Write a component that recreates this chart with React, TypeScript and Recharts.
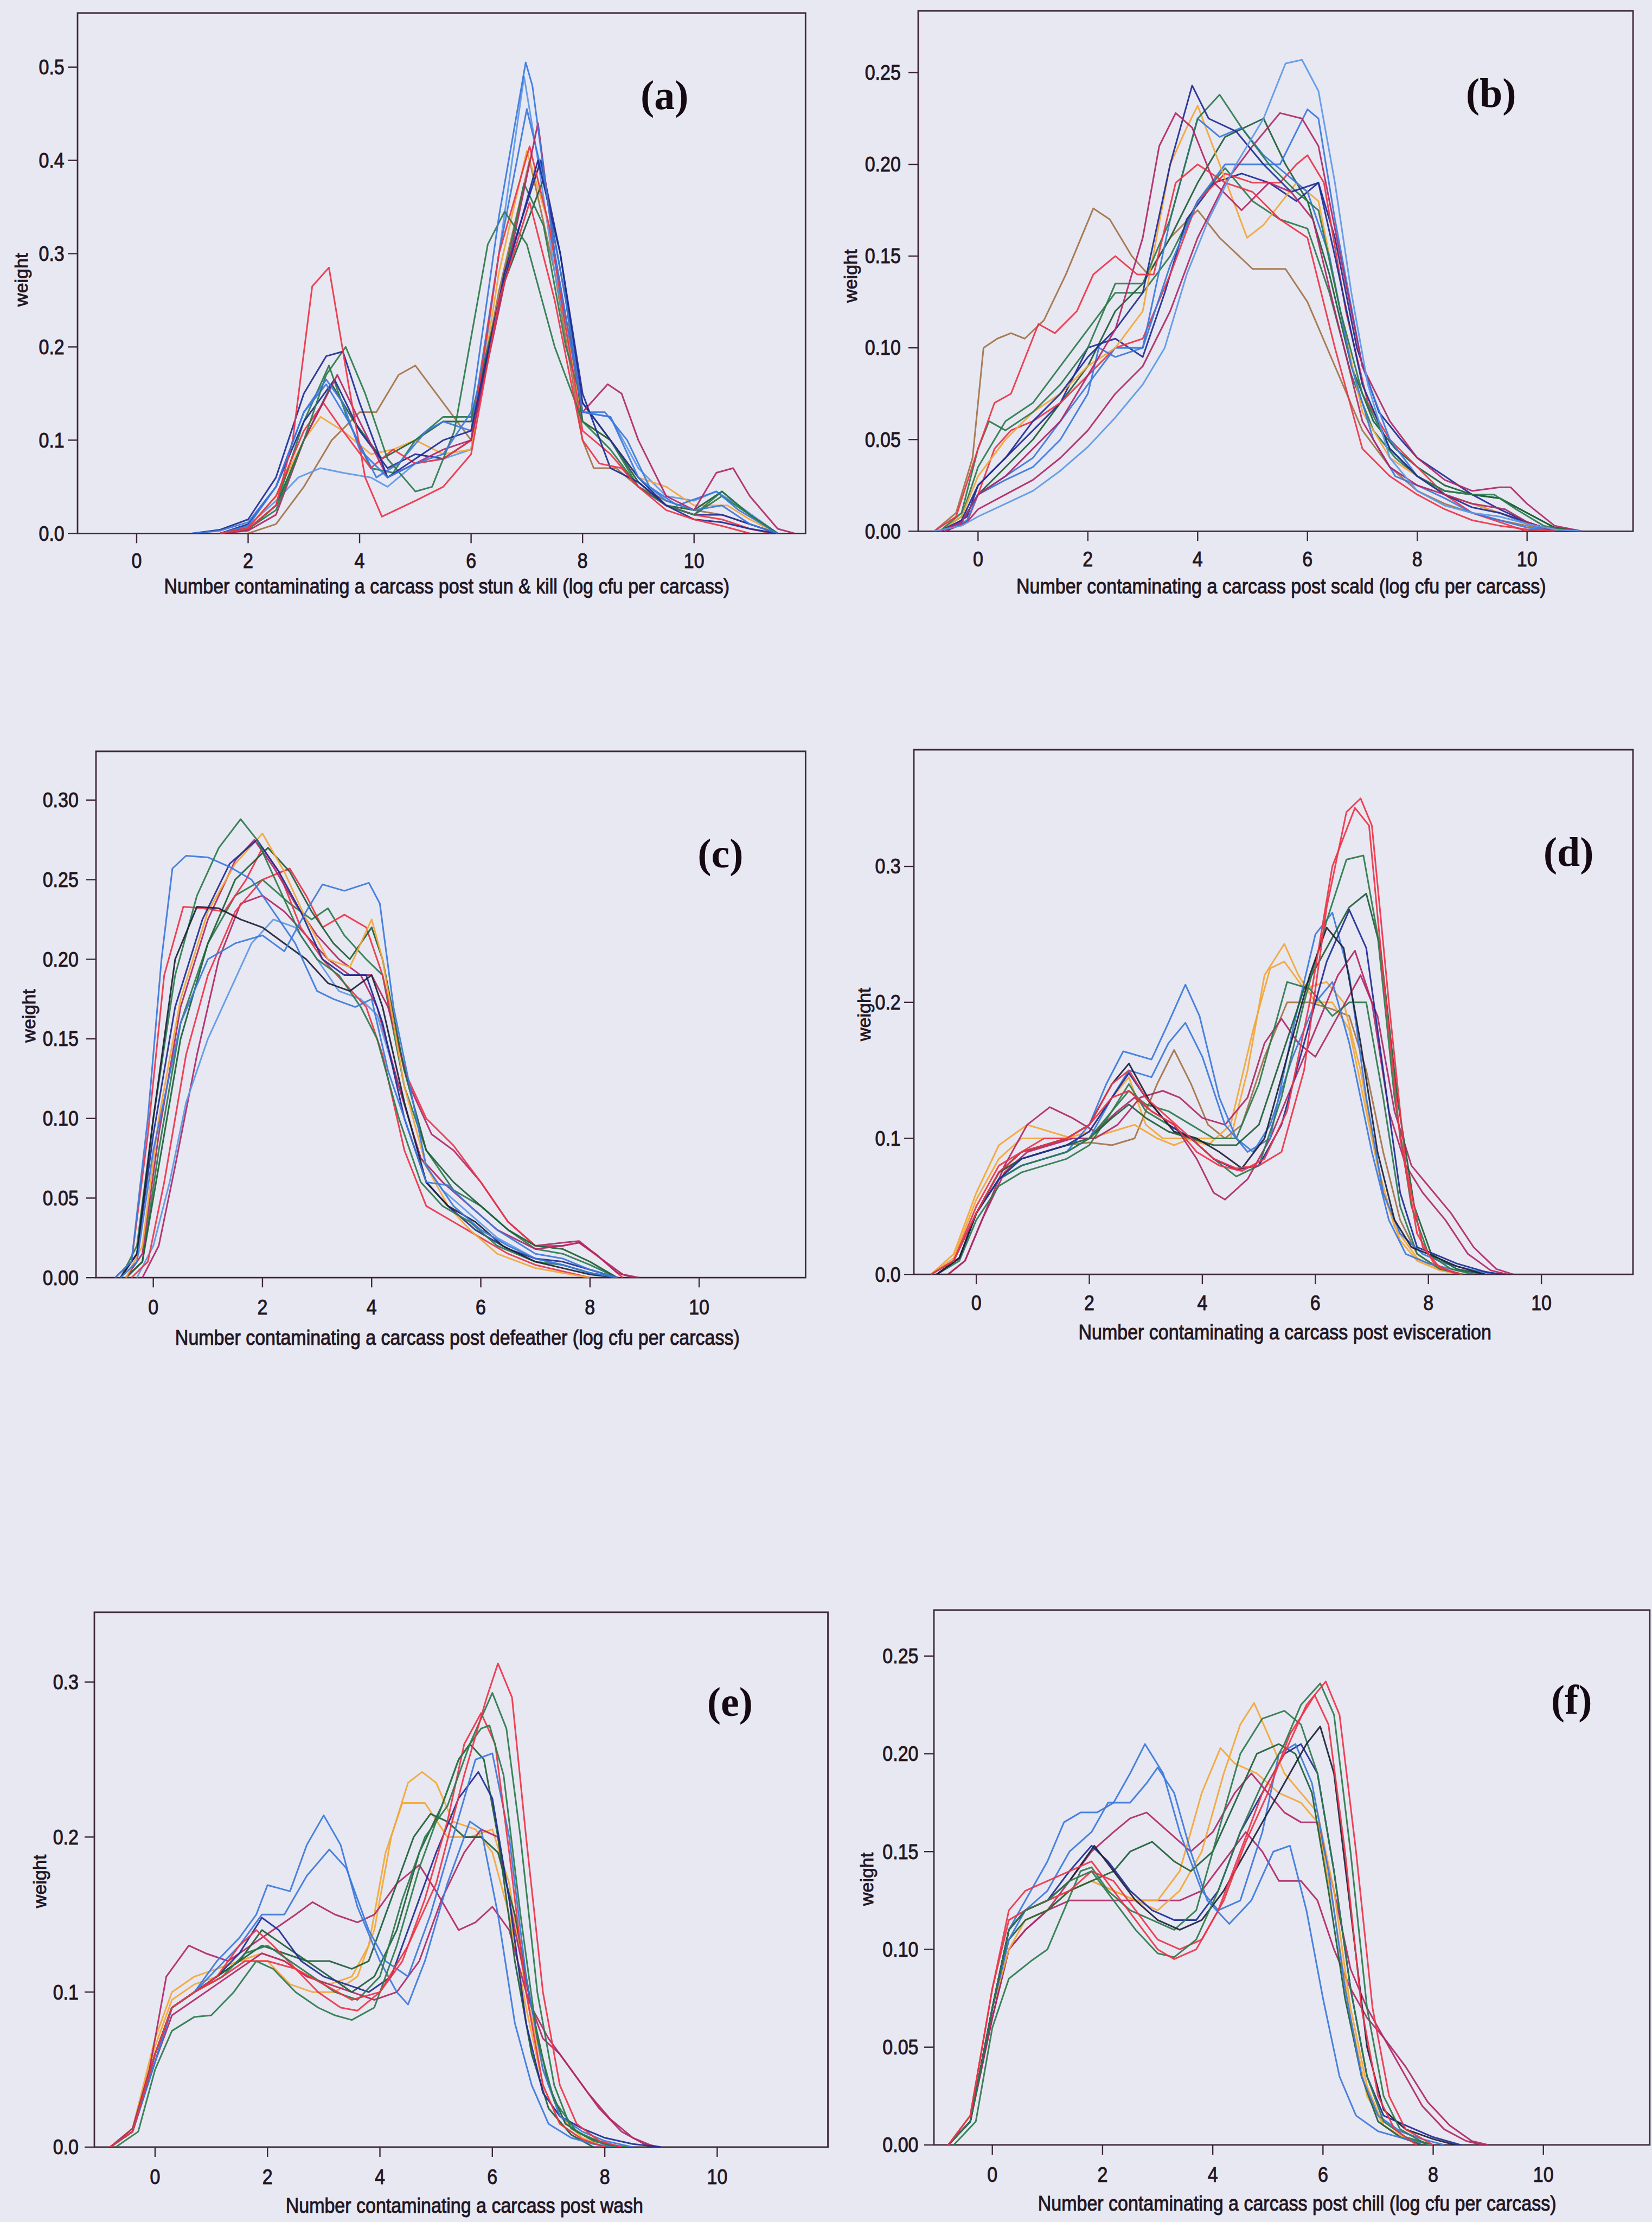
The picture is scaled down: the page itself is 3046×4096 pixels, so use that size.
import React from 'react';
import { LineChart, Line, XAxis, YAxis, ReferenceArea } from 'recharts';

type Pt = [number, number];

// ---------- panel (a): post stun & kill ----------
const A1: Pt[] = [[1,0],[1.5,0.003],[2,0.012],[2.5,0.05],[3,0.13],[3.4,0.165],[3.7,0.14],[4,0.09],[4.5,0.06],[5,0.075],[5.5,0.085],[6,0.13],[6.5,0.34],[6.98,0.505],[7.1,0.48],[7.5,0.3],[8,0.13],[8.5,0.125],[9,0.06],[9.5,0.035],[10,0.025],[10.5,0.03],[11,0.01],[11.5,0]];
const A2: Pt[] = [[1.5,0],[2,0.008],[2.5,0.035],[2.9,0.06],[3.3,0.07],[3.7,0.065],[4.2,0.06],[4.5,0.05],[5,0.075],[5.5,0.08],[6,0.09],[6.5,0.3],[6.95,0.49],[7.2,0.4],[7.5,0.28],[8,0.13],[8.5,0.125],[9,0.07],[9.5,0.04],[10,0.035],[10.4,0.045],[10.8,0.03],[11.5,0]];
const A3: Pt[] = [[1.5,0],[2,0.005],[2.5,0.03],[2.8,0.1],[3.15,0.265],[3.45,0.285],[3.8,0.16],[4.1,0.06],[4.4,0.018],[5,0.035],[5.5,0.05],[6,0.085],[6.5,0.25],[7.05,0.355],[7.5,0.25],[8,0.1],[8.3,0.075],[8.7,0.07],[9,0.05],[9.5,0.025],[10,0.015],[10.5,0.008],[11,0]];
const A4: Pt[] = [[1,0],[1.5,0.004],[2,0.015],[2.5,0.06],[3,0.15],[3.4,0.19],[3.7,0.195],[4,0.14],[4.5,0.06],[5,0.08],[5.5,0.1],[6,0.11],[6.5,0.25],[7.2,0.4],[7.6,0.3],[8,0.15],[8.5,0.07],[9,0.055],[9.5,0.03],[10,0.015],[10.5,0.012],[11,0.005],[11.5,0]];
const A5: Pt[] = [[1.5,0],[2,0.005],[2.5,0.025],[3,0.1],[3.4,0.17],[3.75,0.2],[4.1,0.15],[4.5,0.08],[5,0.045],[5.3,0.05],[5.7,0.11],[6,0.21],[6.3,0.31],[6.6,0.345],[7,0.31],[7.5,0.2],[8,0.12],[8.5,0.09],[9,0.05],[9.5,0.03],[10,0.02],[10.5,0.045],[11,0.02],[11.5,0]];
const A6: Pt[] = [[1.5,0],[2,0.004],[2.5,0.03],[3,0.12],[3.45,0.18],[3.8,0.12],[4.2,0.07],[4.6,0.065],[5,0.1],[5.5,0.125],[6,0.125],[6.5,0.25],[6.95,0.375],[7.3,0.33],[7.7,0.2],[8,0.14],[8.5,0.1],[9,0.05],[9.5,0.03],[10,0.02],[10.5,0.04],[11,0.02],[11.5,0]];
const A7: Pt[] = [[1.5,0],[2,0.003],[2.5,0.02],[3,0.1],[3.6,0.17],[4,0.12],[4.5,0.06],[5,0.075],[5.5,0.09],[6,0.1],[6.5,0.24],[7.2,0.44],[7.5,0.3],[8,0.13],[8.45,0.16],[8.7,0.15],[9,0.1],[9.5,0.04],[10,0.025],[10.4,0.065],[10.7,0.07],[11,0.04],[11.5,0.005],[11.8,0]];
const A8: Pt[] = [[1.5,0],[2,0.006],[2.5,0.04],[3,0.1],[3.3,0.125],[3.7,0.11],[4.2,0.085],[4.6,0.09],[5,0.1],[5.5,0.085],[6,0.09],[6.5,0.28],[7,0.41],[7.4,0.33],[8,0.12],[8.5,0.1],[9,0.06],[9.5,0.05],[10,0.03],[10.6,0.03],[11,0.015],[11.5,0]];
const A9: Pt[] = [[2,0],[2.5,0.01],[3,0.05],[3.5,0.1],[4,0.13],[4.3,0.13],[4.7,0.17],[5,0.18],[5.5,0.14],[6,0.1],[6.5,0.26],[7.05,0.4],[7.5,0.28],[8,0.1],[8.2,0.07],[8.6,0.07],[9,0.05],[9.5,0.035],[10,0.025],[10.5,0.02],[11,0.01],[11.5,0]];
const A10: Pt[] = [[1.5,0],[2,0.006],[2.5,0.04],[3,0.11],[3.35,0.14],[3.7,0.11],[4.2,0.07],[4.6,0.09],[5,0.075],[5.5,0.08],[6,0.1],[6.5,0.3],[7.05,0.415],[7.4,0.33],[8,0.11],[8.5,0.085],[9,0.05],[9.5,0.03],[10,0.02],[10.5,0.015],[11,0.005],[11.4,0]];
const A11: Pt[] = [[1.5,0],[2,0.008],[2.5,0.05],[3,0.13],[3.4,0.16],[3.8,0.12],[4.3,0.06],[4.7,0.075],[5.2,0.11],[5.5,0.12],[6,0.11],[6.5,0.3],[7,0.455],[7.3,0.38],[7.7,0.25],[8,0.13],[8.4,0.13],[8.8,0.1],[9.2,0.05],[9.7,0.03],[10.4,0.045],[10.8,0.025],[11.5,0]];
const A12: Pt[] = [[1.5,0],[2,0.01],[2.5,0.05],[3,0.12],[3.55,0.165],[4,0.11],[4.5,0.07],[5,0.085],[5.5,0.08],[6,0.1],[6.6,0.28],[7.25,0.4],[7.6,0.3],[8,0.14],[8.5,0.1],[9,0.06],[9.5,0.03],[10,0.02],[10.5,0.02],[11,0.01],[11.5,0]];
const A13: Pt[] = [[1.5,0],[2,0.004],[2.5,0.03],[3,0.1],[3.5,0.16],[3.9,0.12],[4.4,0.08],[5,0.1],[5.5,0.12],[6,0.12],[6.6,0.27],[7.3,0.38],[7.7,0.25],[8,0.12],[8.5,0.1],[9,0.055],[9.5,0.03],[10,0.025],[10.5,0.045],[11,0.02],[11.5,0]];

// ---------- panel (b): post scald ----------
const B1: Pt[] = [[-0.8,0],[-0.3,0.003],[0,0.008],[0.5,0.015],[1,0.022],[1.5,0.033],[2,0.046],[2.5,0.062],[3,0.08],[3.4,0.1],[3.8,0.14],[4.2,0.17],[4.7,0.2],[5.2,0.225],[5.6,0.255],[5.9,0.257],[6.2,0.24],[6.5,0.19],[6.8,0.13],[7.1,0.08],[7.5,0.04],[8,0.022],[8.5,0.014],[9,0.01],[9.5,0.008],[10,0.004],[10.5,0.001],[11,0]];
const B2: Pt[] = [[-0.8,0],[-0.4,0.01],[-0.1,0.04],[0.1,0.1],[0.35,0.105],[0.6,0.108],[0.85,0.105],[1.2,0.115],[1.6,0.14],[2.1,0.176],[2.4,0.17],[2.8,0.15],[3.1,0.14],[3.5,0.16],[4,0.175],[4.4,0.16],[5,0.143],[5.6,0.143],[6,0.125],[6.5,0.09],[7,0.055],[7.5,0.035],[8,0.022],[8.5,0.015],[9,0.01],[9.5,0.006],[10,0.003],[10.5,0]];
const B3: Pt[] = [[-0.8,0],[-0.4,0.008],[0,0.045],[0.3,0.07],[0.6,0.075],[1.1,0.113],[1.4,0.108],[1.8,0.12],[2.1,0.14],[2.5,0.15],[2.9,0.14],[3.2,0.14],[3.6,0.19],[4,0.2],[4.5,0.19],[5,0.185],[5.5,0.17],[6,0.16],[6.5,0.1],[7,0.045],[7.5,0.03],[8,0.02],[8.5,0.012],[9,0.006],[9.5,0.003],[10,0.001],[10.5,0]];
const B4: Pt[] = [[-0.7,0],[-0.3,0.005],[0,0.02],[0.5,0.03],[1,0.045],[1.5,0.06],[2,0.085],[2.5,0.11],[3,0.16],[3.3,0.21],[3.6,0.228],[3.9,0.22],[4.3,0.19],[4.8,0.175],[5.3,0.19],[5.7,0.185],[6.1,0.17],[6.5,0.12],[7,0.06],[7.5,0.035],[8,0.025],[8.5,0.02],[9,0.015],[9.6,0.012],[10,0.005],[10.5,0]];
const B5: Pt[] = [[-0.7,0],[-0.3,0.006],[0,0.025],[0.5,0.04],[1,0.06],[1.5,0.075],[2,0.095],[2.5,0.11],[3,0.13],[3.5,0.2],[3.9,0.243],[4.2,0.225],[4.7,0.218],[5.2,0.2],[5.7,0.185],[6.2,0.19],[6.5,0.15],[7,0.08],[7.5,0.045],[8,0.03],[8.5,0.02],[9,0.013],[9.5,0.01],[10,0.005],[10.5,0]];
const B6: Pt[] = [[-0.7,0],[-0.3,0.01],[0,0.045],[0.2,0.06],[0.5,0.055],[1,0.065],[1.5,0.08],[2,0.1],[2.5,0.135],[3,0.135],[3.5,0.17],[4,0.225],[4.4,0.238],[4.8,0.22],[5.3,0.2],[5.8,0.185],[6.2,0.175],[6.6,0.12],[7,0.075],[7.5,0.045],[8,0.03],[8.5,0.022],[9,0.02],[9.4,0.02],[9.8,0.012],[10.3,0.003],[10.8,0]];
const B7: Pt[] = [[-0.7,0],[-0.3,0.008],[0,0.03],[0.5,0.05],[1,0.065],[1.5,0.075],[2,0.09],[2.5,0.1],[3,0.12],[3.5,0.2],[3.8,0.22],[4,0.232],[4.4,0.2],[4.9,0.16],[5.2,0.167],[5.8,0.19],[6.2,0.18],[6.6,0.12],[7,0.065],[7.5,0.04],[8,0.03],[8.5,0.02],[9,0.015],[9.5,0.01],[10,0.005],[10.5,0]];
const B8: Pt[] = [[-0.7,0],[-0.3,0.005],[0,0.02],[0.5,0.035],[1,0.05],[1.5,0.07],[2,0.09],[2.5,0.12],[3,0.135],[3.5,0.16],[4,0.19],[4.5,0.215],[5.2,0.225],[5.6,0.2],[6,0.18],[6.4,0.14],[6.8,0.09],[7.2,0.06],[7.6,0.045],[8,0.035],[8.5,0.025],[9,0.02],[9.5,0.018],[10,0.01],[10.5,0.002],[11,0]];
const B9: Pt[] = [[-0.6,0],[-0.2,0.005],[0,0.012],[0.5,0.02],[1,0.028],[1.5,0.04],[2,0.055],[2.5,0.075],[3,0.09],[3.5,0.12],[4,0.16],[4.5,0.19],[5,0.21],[5.5,0.228],[5.9,0.225],[6.2,0.21],[6.6,0.15],[7,0.09],[7.5,0.06],[8,0.04],[8.5,0.028],[9,0.022],[9.5,0.024],[9.7,0.024],[10,0.015],[10.5,0.003],[11,0]];
const B10: Pt[] = [[-0.6,0],[-0.2,0.006],[0,0.02],[0.5,0.03],[1,0.04],[1.5,0.06],[2,0.08],[2.5,0.1],[3,0.1],[3.5,0.145],[4,0.18],[4.5,0.2],[5,0.2],[5.5,0.2],[6,0.23],[6.2,0.225],[6.5,0.17],[7,0.09],[7.5,0.05],[8,0.03],[8.5,0.02],[9,0.015],[9.5,0.01],[10,0.004],[10.5,0]];
const B11: Pt[] = [[-0.6,0],[-0.2,0.005],[0,0.02],[0.3,0.045],[0.6,0.055],[1,0.06],[1.5,0.07],[2,0.085],[2.5,0.1],[3,0.105],[3.5,0.14],[4,0.18],[4.5,0.195],[5,0.19],[5.5,0.19],[5.8,0.2],[6,0.205],[6.3,0.19],[6.7,0.12],[7.1,0.07],[7.5,0.05],[8,0.035],[8.5,0.02],[9,0.01],[9.5,0.005],[10,0]];
const B12: Pt[] = [[-0.6,0],[-0.2,0.008],[0,0.025],[0.5,0.04],[1,0.055],[1.5,0.07],[2,0.1],[2.5,0.105],[3,0.095],[3.4,0.13],[3.8,0.17],[4.3,0.19],[4.8,0.195],[5.3,0.19],[5.8,0.18],[6.2,0.19],[6.5,0.16],[6.9,0.1],[7.3,0.065],[7.7,0.05],[8,0.04],[8.5,0.03],[9,0.02],[9.5,0.012],[10,0.005],[10.5,0]];
const B13: Pt[] = [[-0.7,0],[-0.3,0.008],[0,0.035],[0.5,0.06],[1,0.07],[1.5,0.09],[2,0.11],[2.5,0.13],[3,0.13],[3.5,0.15],[4,0.18],[4.5,0.198],[5,0.18],[5.5,0.17],[6,0.165],[6.4,0.13],[6.8,0.085],[7.2,0.055],[7.6,0.04],[8,0.03],[8.5,0.022],[9,0.02],[9.5,0.018],[10,0.01],[10.5,0.002],[11,0]];
const B14: Pt[] = [[-0.7,0],[-0.3,0.005],[0,0.02],[0.5,0.028],[1,0.035],[1.5,0.05],[2,0.075],[2.2,0.1],[2.5,0.095],[3,0.1],[3.5,0.17],[4,0.225],[4.4,0.215],[4.8,0.22],[5.2,0.205],[5.6,0.195],[6,0.185],[6.4,0.15],[6.8,0.09],[7.2,0.05],[7.6,0.03],[8,0.025],[8.5,0.018],[9,0.01],[9.5,0.006],[10,0.002],[10.5,0]];

// ---------- panel (c): post defeather ----------
const C1: Pt[] = [[-0.7,0],[-0.4,0.01],[-0.1,0.1],[0.15,0.2],[0.35,0.257],[0.6,0.265],[1,0.264],[1.4,0.258],[1.8,0.25],[2.2,0.23],[2.6,0.21],[3,0.18],[3.3,0.175],[3.7,0.17],[4,0.175],[4.3,0.13],[4.7,0.09],[5,0.06],[5.4,0.058],[5.8,0.045],[6.3,0.03],[7,0.015],[7.5,0.012],[8,0.005],[8.5,0]];
const C2: Pt[] = [[-0.6,0],[-0.3,0.01],[0,0.08],[0.5,0.16],[1,0.2],[1.5,0.21],[2,0.215],[2.4,0.205],[2.8,0.23],[3.1,0.247],[3.5,0.243],[3.95,0.248],[4.15,0.235],[4.4,0.17],[4.7,0.12],[5,0.07],[5.5,0.045],[6,0.03],[6.5,0.02],[7,0.012],[7.5,0.008],[8,0.003],[8.5,0]];
const C3: Pt[] = [[-0.6,0],[-0.3,0.02],[0,0.1],[0.4,0.19],[0.8,0.24],[1.2,0.27],[1.6,0.288],[1.9,0.275],[2.3,0.245],[2.7,0.215],[3,0.2],[3.4,0.19],[3.8,0.17],[4.1,0.15],[4.5,0.1],[4.9,0.06],[5.3,0.045],[5.8,0.035],[6.3,0.02],[7,0.01],[7.5,0.008],[8,0.003],[8.5,0]];
const C4: Pt[] = [[-0.5,0],[-0.2,0.02],[0.1,0.1],[0.5,0.175],[1,0.23],[1.5,0.26],[2,0.279],[2.4,0.255],[2.8,0.225],[3.2,0.2],[3.6,0.195],[4,0.225],[4.2,0.2],[4.6,0.12],[5,0.07],[5.4,0.045],[5.8,0.03],[6.3,0.015],[7,0.006],[7.5,0.003],[8,0]];
const C5: Pt[] = [[-0.5,0],[-0.2,0.015],[0.1,0.09],[0.5,0.17],[1,0.225],[1.5,0.262],[1.85,0.275],[2.2,0.258],[2.6,0.235],[3,0.215],[3.4,0.2],[3.8,0.19],[4.1,0.17],[4.5,0.12],[4.9,0.075],[5.3,0.06],[5.8,0.045],[6.3,0.03],[7,0.018],[7.5,0.02],[7.8,0.022],[8.1,0.015],[8.5,0.003],[8.8,0]];
const C6: Pt[] = [[-0.6,0],[-0.3,0.015],[0,0.09],[0.4,0.17],[0.9,0.225],[1.4,0.26],[1.9,0.275],[2.3,0.255],[2.7,0.23],[3.1,0.2],[3.5,0.19],[3.9,0.19],[4.2,0.16],[4.6,0.1],[5,0.06],[5.4,0.045],[5.9,0.03],[6.5,0.018],[7,0.012],[7.5,0.01],[8,0.005],[8.5,0]];
const C7: Pt[] = [[-0.5,0],[-0.2,0.01],[0.1,0.07],[0.5,0.15],[1,0.21],[1.5,0.25],[2.1,0.27],[2.5,0.255],[2.9,0.23],[3.3,0.21],[3.6,0.2],[4,0.22],[4.2,0.2],[4.6,0.13],[5,0.08],[5.5,0.06],[6,0.045],[6.5,0.03],[7,0.02],[7.5,0.018],[8,0.01],[8.5,0]];
const C8: Pt[] = [[-0.7,0],[-0.4,0.01],[-0.1,0.09],[0.2,0.19],[0.55,0.233],[0.9,0.232],[1.3,0.23],[1.7,0.25],[2,0.27],[2.3,0.255],[2.7,0.22],[3.1,0.2],[3.5,0.185],[3.9,0.17],[4.2,0.14],[4.6,0.08],[5,0.045],[5.5,0.035],[6,0.025],[6.5,0.015],[7,0.008],[7.5,0.004],[8,0]];
const C9: Pt[] = [[-0.4,0],[-0.1,0.01],[0.2,0.06],[0.6,0.14],[1,0.19],[1.5,0.23],[2,0.25],[2.5,0.257],[2.8,0.24],[3.1,0.22],[3.5,0.228],[3.9,0.22],[4.2,0.19],[4.6,0.13],[5,0.1],[5.5,0.083],[6,0.06],[6.5,0.035],[7,0.02],[7.5,0.02],[7.8,0.022],[8.2,0.012],[8.6,0]];
const C10: Pt[] = [[-0.6,0],[-0.3,0.015],[0,0.1],[0.4,0.2],[0.8,0.233],[1.2,0.232],[1.6,0.225],[2,0.22],[2.4,0.21],[2.8,0.2],[3.2,0.185],[3.6,0.18],[4,0.19],[4.2,0.17],[4.6,0.11],[5,0.06],[5.4,0.045],[5.9,0.035],[6.4,0.02],[7,0.01],[7.5,0.006],[8,0.002],[8.5,0]];
const C11: Pt[] = [[-0.3,0],[0,0.02],[0.3,0.06],[0.6,0.11],[1,0.15],[1.4,0.18],[1.8,0.21],[2.2,0.225],[2.6,0.22],[3,0.2],[3.4,0.18],[3.8,0.175],[4.1,0.165],[4.5,0.12],[4.9,0.075],[5.3,0.055],[5.8,0.04],[6.3,0.025],[7,0.012],[7.5,0.008],[8,0.003],[8.5,0]];
const C12: Pt[] = [[-0.2,0],[0.1,0.02],[0.4,0.07],[0.8,0.14],[1.2,0.2],[1.6,0.235],[2,0.24],[2.4,0.23],[2.8,0.215],[3.2,0.2],[3.6,0.19],[4,0.19],[4.3,0.17],[4.7,0.12],[5.1,0.09],[5.5,0.08],[6,0.06],[6.5,0.035],[7,0.02],[7.5,0.022],[7.8,0.023],[8.2,0.012],[8.6,0.002],[8.9,0]];
const C13: Pt[] = [[-0.5,0],[-0.2,0.01],[0.1,0.08],[0.5,0.16],[1,0.21],[1.5,0.24],[2,0.25],[2.5,0.235],[2.9,0.225],[3.2,0.232],[3.5,0.215],[3.9,0.2],[4.2,0.19],[4.6,0.12],[5,0.08],[5.5,0.055],[6,0.045],[6.5,0.03],[7,0.018],[7.5,0.015],[8,0.008],[8.5,0]];

// ---------- panel (d): post evisceration ----------
const D1: Pt[] = [[-0.8,0],[-0.4,0.01],[0,0.045],[0.4,0.075],[0.8,0.09],[1.2,0.1],[1.6,0.1],[2,0.11],[2.4,0.14],[2.7,0.15],[3,0.13],[3.4,0.115],[3.8,0.1],[4.2,0.085],[4.6,0.078],[5,0.08],[5.4,0.09],[5.8,0.15],[6.2,0.27],[6.55,0.34],[6.8,0.35],[7,0.33],[7.3,0.2],[7.6,0.08],[7.9,0.02],[8.2,0.005],[8.6,0]];
const D2: Pt[] = [[-0.8,0],[-0.4,0.01],[0,0.05],[0.4,0.08],[0.8,0.09],[1.2,0.095],[1.6,0.1],[2,0.11],[2.4,0.13],[2.7,0.135],[3.1,0.12],[3.5,0.11],[3.9,0.09],[4.3,0.08],[4.7,0.076],[5.1,0.085],[5.5,0.12],[5.9,0.2],[6.3,0.3],[6.7,0.343],[6.95,0.33],[7.2,0.22],[7.5,0.1],[7.8,0.03],[8.1,0.008],[8.5,0]];
const D3: Pt[] = [[-0.8,0],[-0.4,0.01],[0,0.045],[0.4,0.07],[0.8,0.08],[1.2,0.085],[1.6,0.09],[2,0.11],[2.3,0.14],[2.6,0.164],[3.1,0.158],[3.4,0.185],[3.7,0.213],[3.95,0.19],[4.3,0.13],[4.6,0.1],[4.9,0.09],[5.2,0.11],[5.6,0.16],[6,0.2],[6.3,0.215],[6.6,0.17],[7,0.09],[7.3,0.04],[7.6,0.015],[8,0.008],[8.5,0.003],[9,0]];
const D4: Pt[] = [[-0.8,0],[-0.4,0.01],[0,0.045],[0.4,0.07],[0.8,0.08],[1.2,0.085],[1.6,0.09],[2,0.1],[2.4,0.13],[2.7,0.15],[3.1,0.145],[3.4,0.17],[3.7,0.185],[4,0.16],[4.4,0.11],[4.8,0.09],[5.2,0.1],[5.6,0.18],[6,0.25],[6.3,0.266],[6.6,0.22],[6.9,0.13],[7.2,0.06],[7.5,0.03],[7.9,0.015],[8.3,0.008],[8.8,0.003],[9.2,0]];
const D5: Pt[] = [[-0.7,0],[-0.3,0.012],[0,0.045],[0.4,0.075],[0.8,0.085],[1.2,0.09],[1.6,0.095],[2,0.097],[2.4,0.095],[2.8,0.1],[3.2,0.14],[3.5,0.165],[3.8,0.14],[4.1,0.11],[4.4,0.1],[4.7,0.11],[5.1,0.16],[5.5,0.2],[5.9,0.2],[6.3,0.195],[6.6,0.19],[6.9,0.15],[7.2,0.09],[7.5,0.04],[7.8,0.015],[8.2,0.004],[8.6,0]];
const D6: Pt[] = [[-0.8,0],[-0.4,0.015],[0,0.06],[0.4,0.095],[0.9,0.11],[1.3,0.105],[1.7,0.1],[2,0.1],[2.4,0.105],[2.8,0.11],[3.2,0.1],[3.5,0.095],[3.8,0.1],[4.2,0.1],[4.5,0.1],[4.8,0.15],[5.1,0.22],[5.45,0.243],[5.7,0.22],[6,0.2],[6.3,0.2],[6.6,0.18],[6.9,0.12],[7.2,0.06],[7.5,0.025],[7.8,0.01],[8.2,0.003],[8.6,0]];
const D7: Pt[] = [[-0.8,0],[-0.4,0.012],[0,0.055],[0.4,0.085],[0.8,0.1],[1.2,0.1],[1.6,0.1],[2,0.105],[2.4,0.13],[2.7,0.145],[3,0.11],[3.3,0.1],[3.7,0.1],[4.1,0.095],[4.5,0.11],[4.9,0.18],[5.2,0.225],[5.45,0.23],[5.8,0.21],[6.2,0.215],[6.5,0.2],[6.8,0.15],[7.1,0.08],[7.4,0.035],[7.8,0.012],[8.2,0.004],[8.6,0]];
const D8: Pt[] = [[-0.7,0],[-0.3,0.012],[0,0.045],[0.4,0.07],[0.8,0.08],[1.2,0.085],[1.6,0.09],[2,0.1],[2.4,0.12],[2.7,0.14],[3,0.12],[3.4,0.11],[3.8,0.1],[4.2,0.085],[4.6,0.072],[5,0.08],[5.4,0.13],[5.8,0.2],[6.2,0.26],[6.55,0.305],[6.85,0.308],[7.1,0.25],[7.4,0.13],[7.7,0.05],[8,0.015],[8.4,0.004],[8.8,0]];
const D9: Pt[] = [[-0.7,0],[-0.3,0.012],[0,0.045],[0.4,0.075],[0.8,0.085],[1.2,0.09],[1.6,0.095],[2,0.1],[2.4,0.115],[2.7,0.125],[3,0.115],[3.4,0.105],[3.8,0.1],[4.2,0.095],[4.6,0.095],[5,0.11],[5.4,0.16],[5.8,0.21],[6.2,0.24],[6.6,0.27],[6.9,0.28],[7.15,0.24],[7.45,0.13],[7.75,0.05],[8.05,0.015],[8.5,0.004],[9,0]];
const D10: Pt[] = [[-0.7,0],[-0.3,0.012],[0,0.045],[0.4,0.07],[0.8,0.085],[1.2,0.09],[1.6,0.095],[2,0.105],[2.4,0.13],[2.7,0.148],[3,0.13],[3.4,0.11],[3.8,0.1],[4.2,0.085],[4.6,0.077],[5,0.08],[5.4,0.11],[5.8,0.17],[6.2,0.23],[6.6,0.268],[6.9,0.24],[7.2,0.15],[7.5,0.06],[7.8,0.02],[8.1,0.015],[8.5,0.008],[9,0.002],[9.3,0]];
const D11: Pt[] = [[-0.5,0],[-0.2,0.01],[0.1,0.04],[0.5,0.08],[0.9,0.11],[1.3,0.123],[1.7,0.115],[2.1,0.105],[2.5,0.12],[2.8,0.13],[3.1,0.12],[3.5,0.11],[3.9,0.085],[4.2,0.06],[4.4,0.055],[4.8,0.07],[5.2,0.1],[5.6,0.14],[6,0.18],[6.4,0.22],[6.7,0.238],[7,0.2],[7.3,0.12],[7.6,0.08],[7.9,0.06],[8.3,0.04],[8.7,0.015],[9.1,0.003],[9.4,0]];
const D12: Pt[] = [[-0.5,0],[-0.2,0.01],[0.1,0.04],[0.5,0.075],[0.9,0.09],[1.3,0.095],[1.7,0.1],[2.1,0.1],[2.5,0.11],[2.9,0.13],[3.3,0.135],[3.6,0.13],[4,0.115],[4.4,0.11],[4.8,0.13],[5.1,0.17],[5.4,0.188],[5.7,0.17],[6,0.16],[6.4,0.19],[6.8,0.22],[7.1,0.19],[7.4,0.12],[7.7,0.08],[8,0.065],[8.4,0.045],[8.8,0.02],[9.2,0.004],[9.5,0]];
const D13: Pt[] = [[-0.7,0],[-0.3,0.01],[0,0.04],[0.4,0.065],[0.8,0.075],[1.2,0.08],[1.6,0.085],[2,0.095],[2.4,0.12],[2.7,0.135],[3,0.125],[3.4,0.12],[3.8,0.11],[4.2,0.1],[4.6,0.1],[5,0.14],[5.5,0.215],[5.9,0.21],[6.3,0.19],[6.6,0.2],[6.9,0.2],[7.2,0.13],[7.5,0.05],[7.8,0.015],[8.2,0.004],[8.6,0]];
const D14: Pt[] = [[-0.7,0],[-0.3,0.012],[0,0.045],[0.4,0.075],[0.8,0.09],[1.2,0.095],[1.6,0.1],[2,0.11],[2.4,0.14],[2.7,0.155],[3.1,0.125],[3.5,0.105],[3.9,0.1],[4.3,0.09],[4.7,0.078],[5.1,0.1],[5.5,0.16],[5.9,0.22],[6.2,0.255],[6.5,0.24],[6.8,0.17],[7.1,0.09],[7.4,0.04],[7.7,0.02],[8,0.015],[8.5,0.006],[9,0]];

// ---------- panel (e): post wash ----------
const E1: Pt[] = [[-0.8,0],[-0.4,0.01],[0,0.06],[0.3,0.09],[0.7,0.1],[1.2,0.11],[1.6,0.12],[2,0.12],[2.5,0.115],[3,0.105],[3.5,0.095],[4,0.1],[4.5,0.13],[5,0.17],[5.5,0.24],[5.9,0.29],[6.1,0.312],[6.35,0.29],[6.6,0.2],[6.9,0.1],[7.2,0.04],[7.5,0.015],[7.9,0.004],[8.3,0]];
const E2: Pt[] = [[-0.8,0],[-0.4,0.01],[0,0.06],[0.3,0.09],[0.7,0.1],[1.2,0.11],[1.6,0.125],[2,0.13],[2.4,0.12],[2.8,0.11],[3.2,0.1],[3.6,0.095],[4,0.11],[4.4,0.16],[4.8,0.2],[5.2,0.22],[5.6,0.26],[6,0.293],[6.25,0.27],[6.5,0.2],[6.8,0.1],[7.1,0.04],[7.4,0.012],[7.8,0.004],[8.2,0]];
const E3: Pt[] = [[-0.8,0],[-0.4,0.01],[0,0.055],[0.3,0.09],[0.7,0.1],[1.1,0.12],[1.5,0.135],[1.8,0.15],[2,0.169],[2.4,0.165],[2.7,0.195],[3,0.214],[3.3,0.195],[3.6,0.155],[4,0.12],[4.3,0.1],[4.5,0.092],[4.8,0.12],[5.2,0.17],[5.6,0.21],[5.8,0.205],[6.1,0.15],[6.4,0.08],[6.7,0.04],[7,0.015],[7.4,0.006],[7.8,0.002],[8.2,0]];
const E4: Pt[] = [[-0.8,0],[-0.4,0.01],[0,0.055],[0.3,0.09],[0.7,0.1],[1.1,0.115],[1.5,0.13],[1.9,0.15],[2.3,0.15],[2.7,0.175],[3.1,0.192],[3.4,0.18],[3.8,0.14],[4.1,0.12],[4.5,0.11],[4.9,0.15],[5.3,0.2],[5.7,0.25],[6,0.254],[6.3,0.2],[6.6,0.11],[6.9,0.05],[7.2,0.02],[7.6,0.01],[8,0.004],[8.5,0]];
const E5: Pt[] = [[-0.8,0],[-0.4,0.012],[0,0.07],[0.3,0.1],[0.7,0.11],[1.1,0.115],[1.5,0.12],[2,0.12],[2.4,0.105],[2.8,0.1],[3.2,0.1],[3.6,0.11],[3.9,0.14],[4.2,0.2],[4.5,0.235],[4.75,0.242],[5,0.235],[5.3,0.21],[5.7,0.205],[6,0.19],[6.3,0.15],[6.6,0.09],[6.9,0.04],[7.2,0.015],[7.6,0.005],[8,0]];
const E6: Pt[] = [[-0.8,0],[-0.4,0.012],[0,0.065],[0.3,0.095],[0.7,0.105],[1.1,0.11],[1.5,0.12],[1.9,0.125],[2.3,0.12],[2.7,0.11],[3.1,0.105],[3.5,0.11],[3.8,0.13],[4.1,0.19],[4.4,0.222],[4.8,0.222],[5.2,0.2],[5.6,0.2],[6,0.205],[6.3,0.17],[6.6,0.1],[6.9,0.05],[7.2,0.02],[7.6,0.006],[8,0]];
const E7: Pt[] = [[-0.8,0],[-0.4,0.012],[-0.1,0.05],[0.2,0.11],[0.6,0.13],[0.9,0.125],[1.3,0.12],[1.7,0.13],[2.1,0.14],[2.5,0.15],[2.8,0.158],[3.2,0.15],[3.6,0.145],[3.9,0.15],[4.3,0.17],[4.7,0.182],[5,0.165],[5.4,0.14],[5.7,0.145],[6,0.155],[6.3,0.14],[6.6,0.1],[6.9,0.07],[7.2,0.06],[7.5,0.045],[7.9,0.025],[8.3,0.01],[8.7,0.002],[9,0]];
const E8: Pt[] = [[-0.7,0],[-0.3,0.01],[0,0.05],[0.3,0.075],[0.7,0.084],[1,0.085],[1.4,0.1],[1.8,0.12],[2.1,0.115],[2.5,0.1],[2.9,0.09],[3.2,0.085],[3.5,0.082],[3.9,0.09],[4.3,0.13],[4.7,0.18],[5,0.21],[5.4,0.25],[5.8,0.27],[5.95,0.272],[6.2,0.24],[6.5,0.15],[6.8,0.07],[7.1,0.03],[7.5,0.01],[8,0.002],[8.4,0]];
const E9: Pt[] = [[-0.8,0],[-0.4,0.01],[0,0.06],[0.3,0.09],[0.7,0.1],[1.1,0.11],[1.5,0.125],[1.9,0.148],[2.2,0.14],[2.6,0.12],[3,0.11],[3.4,0.105],[3.8,0.1],[4.2,0.11],[4.6,0.15],[5,0.19],[5.4,0.225],[5.75,0.242],[6,0.225],[6.3,0.16],[6.6,0.08],[6.9,0.035],[7.2,0.02],[7.6,0.012],[8,0.006],[8.5,0.002],[9,0]];
const E10: Pt[] = [[-0.8,0],[-0.4,0.01],[0,0.06],[0.3,0.09],[0.7,0.1],[1.1,0.11],[1.5,0.13],[1.8,0.14],[2.1,0.13],[2.5,0.115],[2.9,0.1],[3.3,0.09],[3.6,0.088],[4,0.1],[4.4,0.12],[4.8,0.16],[5.2,0.21],[5.5,0.26],[5.8,0.28],[6.05,0.26],[6.3,0.19],[6.6,0.1],[6.9,0.04],[7.2,0.015],[7.6,0.005],[8,0]];
const E11: Pt[] = [[-0.8,0],[-0.4,0.01],[0,0.06],[0.3,0.09],[0.7,0.1],[1.1,0.11],[1.5,0.12],[1.9,0.13],[2.3,0.125],[2.7,0.12],[3.1,0.12],[3.5,0.115],[3.8,0.12],[4.2,0.16],[4.6,0.2],[4.9,0.215],[5.2,0.21],[5.5,0.2],[5.8,0.2],[6.1,0.19],[6.4,0.15],[6.7,0.09],[7,0.04],[7.3,0.015],[7.7,0.006],[8.2,0]];
const E12: Pt[] = [[-0.8,0],[-0.4,0.01],[0,0.055],[0.3,0.085],[0.7,0.095],[1.1,0.105],[1.5,0.115],[1.9,0.125],[2.3,0.12],[2.7,0.11],[3.1,0.105],[3.5,0.1],[3.9,0.095],[4.3,0.1],[4.7,0.12],[5.1,0.16],[5.5,0.19],[5.8,0.205],[6.1,0.2],[6.4,0.14],[6.7,0.09],[7,0.07],[7.3,0.055],[7.7,0.035],[8.1,0.018],[8.5,0.006],[8.9,0]];
const E13: Pt[] = [[-0.8,0],[-0.4,0.01],[0,0.06],[0.3,0.09],[0.7,0.1],[1.1,0.11],[1.5,0.12],[1.9,0.14],[2.3,0.13],[2.7,0.12],[3.1,0.11],[3.5,0.1],[3.9,0.11],[4.3,0.14],[4.7,0.19],[5.1,0.22],[5.4,0.25],[5.6,0.26],[5.85,0.25],[6.1,0.2],[6.4,0.12],[6.7,0.06],[7,0.025],[7.4,0.008],[7.8,0]];

// ---------- panel (f): post chill ----------
const F1: Pt[] = [[-0.8,0],[-0.4,0.015],[0,0.08],[0.3,0.12],[0.6,0.13],[1,0.135],[1.4,0.14],[1.8,0.145],[2.2,0.13],[2.6,0.115],[3,0.1],[3.3,0.095],[3.7,0.1],[4.1,0.12],[4.5,0.15],[4.9,0.18],[5.3,0.2],[5.7,0.225],[6.05,0.237],[6.3,0.22],[6.6,0.15],[6.9,0.07],[7.2,0.025],[7.5,0.008],[8,0]];
const F2: Pt[] = [[-0.8,0],[-0.4,0.012],[0,0.07],[0.3,0.11],[0.6,0.12],[1,0.125],[1.4,0.135],[1.8,0.14],[2.2,0.125],[2.6,0.11],[3,0.098],[3.3,0.096],[3.7,0.105],[4.1,0.13],[4.5,0.16],[4.9,0.185],[5.3,0.205],[5.6,0.225],[5.95,0.236],[6.2,0.22],[6.5,0.15],[6.8,0.07],[7.1,0.025],[7.4,0.008],[7.9,0]];
const F3: Pt[] = [[-0.8,0],[-0.4,0.012],[0,0.07],[0.3,0.11],[0.6,0.125],[1,0.145],[1.3,0.165],[1.6,0.17],[1.9,0.17],[2.2,0.175],[2.5,0.19],[2.77,0.205],[3.1,0.19],[3.4,0.16],[3.8,0.13],[4.1,0.12],[4.5,0.125],[4.9,0.16],[5.2,0.2],[5.5,0.205],[5.8,0.185],[6.1,0.14],[6.4,0.08],[6.7,0.035],[7,0.015],[7.4,0.007],[7.8,0.003],[8.2,0]];
const F4: Pt[] = [[-0.8,0],[-0.4,0.012],[0,0.07],[0.3,0.105],[0.6,0.12],[1,0.13],[1.4,0.15],[1.8,0.16],[2.1,0.175],[2.5,0.175],[2.8,0.185],[3,0.193],[3.3,0.18],[3.6,0.15],[3.9,0.125],[4.3,0.113],[4.7,0.125],[5.1,0.15],[5.4,0.153],[5.7,0.12],[6,0.075],[6.3,0.035],[6.6,0.015],[7,0.007],[7.5,0.003],[8,0]];
const F5: Pt[] = [[-0.8,0],[-0.4,0.012],[0,0.07],[0.3,0.11],[0.6,0.12],[1,0.125],[1.4,0.13],[1.8,0.135],[2.2,0.13],[2.6,0.125],[3,0.12],[3.4,0.13],[3.8,0.15],[4.2,0.19],[4.5,0.215],[4.75,0.226],[5,0.21],[5.3,0.19],[5.6,0.18],[5.9,0.17],[6.2,0.13],[6.5,0.07],[6.8,0.03],[7.1,0.01],[7.5,0.003],[8,0]];
const F6: Pt[] = [[-0.8,0],[-0.4,0.012],[0,0.07],[0.3,0.1],[0.6,0.115],[1,0.12],[1.4,0.13],[1.8,0.135],[2.2,0.13],[2.6,0.125],[3,0.125],[3.4,0.14],[3.8,0.18],[4.14,0.203],[4.4,0.195],[4.8,0.19],[5.2,0.18],[5.6,0.175],[5.9,0.165],[6.2,0.12],[6.5,0.065],[6.8,0.025],[7.1,0.01],[7.5,0.003],[8,0]];
const F7: Pt[] = [[-0.8,0],[-0.4,0.012],[0,0.065],[0.3,0.1],[0.6,0.11],[1,0.12],[1.4,0.135],[1.8,0.15],[2.2,0.16],[2.5,0.167],[2.8,0.17],[3.2,0.16],[3.6,0.15],[4,0.16],[4.4,0.18],[4.7,0.19],[5,0.18],[5.3,0.17],[5.6,0.165],[5.9,0.165],[6.2,0.13],[6.5,0.09],[6.8,0.07],[7.1,0.055],[7.4,0.04],[7.8,0.02],[8.2,0.008],[8.6,0.002],[8.9,0]];
const F8: Pt[] = [[-0.7,0],[-0.3,0.012],[0,0.06],[0.3,0.085],[0.7,0.094],[1,0.1],[1.3,0.12],[1.6,0.14],[1.8,0.142],[2.1,0.13],[2.5,0.12],[2.9,0.115],[3.3,0.11],[3.7,0.12],[4.1,0.16],[4.5,0.2],[4.9,0.218],[5.3,0.222],[5.6,0.215],[5.9,0.19],[6.2,0.14],[6.5,0.08],[6.8,0.035],[7.1,0.012],[7.5,0.004],[8,0]];
const F9: Pt[] = [[-0.8,0],[-0.4,0.012],[0,0.07],[0.3,0.11],[0.6,0.12],[1,0.125],[1.4,0.14],[1.8,0.153],[2.1,0.145],[2.5,0.13],[2.9,0.12],[3.3,0.115],[3.7,0.115],[4.1,0.13],[4.5,0.16],[4.9,0.18],[5.3,0.2],[5.6,0.205],[5.9,0.19],[6.2,0.14],[6.5,0.08],[6.8,0.035],[7.1,0.015],[7.5,0.01],[8,0.004],[8.5,0]];
const F10: Pt[] = [[-0.8,0],[-0.4,0.012],[0,0.065],[0.3,0.1],[0.6,0.11],[1,0.12],[1.4,0.125],[1.8,0.125],[2.2,0.125],[2.6,0.125],[3,0.125],[3.4,0.125],[3.8,0.13],[4.2,0.145],[4.6,0.16],[4.9,0.15],[5.2,0.135],[5.6,0.135],[5.9,0.125],[6.2,0.1],[6.5,0.08],[6.8,0.065],[7.1,0.055],[7.5,0.04],[7.9,0.022],[8.3,0.01],[8.7,0.002],[9,0]];
const F11: Pt[] = [[-0.8,0],[-0.4,0.015],[0,0.08],[0.3,0.115],[0.6,0.12],[1,0.125],[1.4,0.13],[1.8,0.14],[2.2,0.135],[2.6,0.12],[3,0.105],[3.4,0.1],[3.8,0.105],[4.2,0.125],[4.6,0.155],[5,0.18],[5.4,0.21],[5.85,0.23],[6.1,0.215],[6.4,0.15],[6.7,0.07],[7,0.025],[7.3,0.008],[7.7,0]];
const F12: Pt[] = [[-0.8,0],[-0.4,0.012],[0,0.07],[0.3,0.105],[0.6,0.115],[1,0.12],[1.4,0.13],[1.8,0.135],[2.2,0.14],[2.5,0.15],[2.9,0.155],[3.3,0.145],[3.6,0.14],[4,0.15],[4.4,0.175],[4.8,0.2],[5.2,0.205],[5.5,0.2],[5.8,0.18],[6.1,0.13],[6.4,0.075],[6.7,0.035],[7,0.012],[7.4,0.004],[7.8,0]];
const F13: Pt[] = [[-0.8,0],[-0.4,0.012],[0,0.07],[0.3,0.11],[0.6,0.12],[1,0.125],[1.4,0.135],[1.85,0.153],[2.2,0.14],[2.6,0.125],[3,0.115],[3.4,0.11],[3.8,0.115],[4.2,0.13],[4.6,0.15],[5,0.17],[5.4,0.19],[5.7,0.205],[5.95,0.214],[6.2,0.19],[6.5,0.12],[6.8,0.05],[7.1,0.018],[7.5,0.008],[8,0.003],[8.4,0]];

// ---------- tick values and titles ----------
const X_TICKS = [0, 2, 4, 6, 8, 10];
const Y_TICKS_A = [0, 0.1, 0.2, 0.3, 0.4, 0.5];
const Y_TICKS_B = [0, 0.05, 0.1, 0.15, 0.2, 0.25];
const Y_TICKS_C = [0, 0.05, 0.1, 0.15, 0.2, 0.25, 0.3];
const Y_TICKS_D = [0, 0.1, 0.2, 0.3];
const Y_TICKS_E = [0, 0.1, 0.2, 0.3];
const Y_TICKS_F = [0, 0.05, 0.1, 0.15, 0.2, 0.25];
const TITLES = [
  'Number contaminating a carcass post stun & kill (log cfu per carcass)',
  'Number contaminating a carcass post scald (log cfu per carcass)',
  'Number contaminating a carcass post defeather (log cfu per carcass)',
  'Number contaminating a carcass post evisceration',
  'Number contaminating a carcass post wash',
  'Number contaminating a carcass post chill (log cfu per carcass)',
];
const TAGS = ['(a)', '(b)', '(c)', '(d)', '(e)', '(f)'];
const Y_LABEL = 'weight';

// ---------- styles ----------
const BLUE = '#3b78dc';
const LBLUE = '#5c98e6';
const NAVY = '#1f2c94';
const RED = '#ec3448';
const MAGENTA = '#b02866';
const GREEN = '#2c7a4c';
const DGREEN = '#1d5e38';
const ORANGE = '#f2a636';
const BROWN = '#a27346';
const DARK = '#1c2238';
const INK = '#231722';
const AXIS = '#3e2838';
const BG = '#e8e8f3';

const S = 0.606;
const TICK = 18;
const ML = 165;
const MR = 12;
const MT = 12;
const MB = 135;
const FS = 34;
const FONT = '"Liberation Sans", Arial, Helvetica, sans-serif';
const TEXT_STROKE = 0.9;

type Series = { d: Pt[]; c: string };
type PanelCfg = {
  L: number; T: number; R: number; B: number;
  xDom: [number, number]; yMax: number; yTicks: number[]; dec: number;
  xLabGap: number; titleGap: number; titleDx: number; yLabGap: number;
  wDx: number; wDy: number; tagDx: number; tagDy: number;
  title: string; tag: string; series: Series[];
};

const PANELS: PanelCfg[] = [
  { L: 236, T: 39, R: 2451, B: 1622, xDom: [-1.06, 12.0], yMax: 0.558, yTicks: Y_TICKS_A, dec: 1,
    xLabGap: 83, titleGap: 161, titleDx: 16, yLabGap: 40, wDx: 172, wDy: 20, tagDx: 1786, tagDy: 250,
    title: TITLES[0], tag: TAGS[0],
    series: [
      { d: A9, c: BROWN }, { d: A2, c: LBLUE }, { d: A8, c: ORANGE }, { d: A13, c: DGREEN },
      { d: A6, c: GREEN }, { d: A12, c: NAVY }, { d: A11, c: BLUE }, { d: A10, c: RED },
      { d: A7, c: MAGENTA }, { d: A5, c: GREEN }, { d: A4, c: NAVY }, { d: A3, c: RED }, { d: A1, c: BLUE },
    ] },
  { L: 2794, T: 33, R: 4969, B: 1616, xDom: [-1.09, 11.93], yMax: 0.2837, yTicks: Y_TICKS_B, dec: 2,
    xLabGap: 85, titleGap: 167, titleDx: 17, yLabGap: 53, wDx: 206, wDy: 15, tagDx: 1743, tagDy: 250,
    title: TITLES[1], tag: TAGS[1],
    series: [
      { d: B2, c: BROWN }, { d: B13, c: GREEN }, { d: B8, c: DGREEN }, { d: B12, c: NAVY },
      { d: B11, c: RED }, { d: B10, c: BLUE }, { d: B9, c: MAGENTA }, { d: B7, c: ORANGE },
      { d: B14, c: BLUE }, { d: B6, c: GREEN }, { d: B5, c: NAVY }, { d: B4, c: MAGENTA },
      { d: B3, c: RED }, { d: B1, c: LBLUE },
    ] },
  { L: 292, T: 2286, R: 2451, B: 3887, xDom: [-1.05, 11.95], yMax: 0.3306, yTicks: Y_TICKS_C, dec: 2,
    xLabGap: 90, titleGap: 182, titleDx: 20, yLabGap: 53, wDx: 204, wDy: 4, tagDx: 1900, tagDy: 311,
    title: TITLES[2], tag: TAGS[2],
    series: [
      { d: C13, c: GREEN }, { d: C12, c: MAGENTA }, { d: C11, c: LBLUE }, { d: C9, c: RED },
      { d: C8, c: RED }, { d: C7, c: DGREEN }, { d: C5, c: MAGENTA }, { d: C4, c: ORANGE },
      { d: C6, c: NAVY }, { d: C3, c: GREEN }, { d: C10, c: DARK }, { d: C2, c: BLUE }, { d: C1, c: BLUE },
    ] },
  { L: 2781, T: 2280, R: 4969, B: 3876, xDom: [-1.105, 11.62], yMax: 0.3858, yTicks: Y_TICKS_D, dec: 1,
    xLabGap: 87, titleGap: 176, titleDx: 35, yLabGap: 40, wDx: 152, wDy: 7, tagDx: 1992, tagDy: 311,
    title: TITLES[3], tag: TAGS[3],
    series: [
      { d: D5, c: BROWN }, { d: D7, c: ORANGE }, { d: D6, c: ORANGE }, { d: D12, c: MAGENTA },
      { d: D11, c: MAGENTA }, { d: D13, c: GREEN }, { d: D4, c: BLUE }, { d: D3, c: BLUE },
      { d: D9, c: DGREEN }, { d: D8, c: GREEN }, { d: D10, c: NAVY }, { d: D14, c: DARK },
      { d: D2, c: RED }, { d: D1, c: RED },
    ] },
  { L: 287, T: 4904, R: 2519, B: 6531, xDom: [-1.08, 11.97], yMax: 0.345, yTicks: Y_TICKS_E, dec: 1,
    xLabGap: 90, titleGap: 178, titleDx: 10, yLabGap: 48, wDx: 167, wDy: 5, tagDx: 1934, tagDy: 273,
    title: TITLES[4], tag: TAGS[4],
    series: [
      { d: E6, c: ORANGE }, { d: E5, c: ORANGE }, { d: E12, c: MAGENTA }, { d: E7, c: MAGENTA },
      { d: E11, c: DGREEN }, { d: E13, c: DGREEN }, { d: E9, c: NAVY }, { d: E4, c: BLUE },
      { d: E3, c: BLUE }, { d: E10, c: RED }, { d: E8, c: GREEN }, { d: E2, c: GREEN }, { d: E1, c: RED },
    ] },
  { L: 2841, T: 4898, R: 5019, B: 6525, xDom: [-1.06, 11.93], yMax: 0.2735, yTicks: Y_TICKS_F, dec: 2,
    xLabGap: 90, titleGap: 178, titleDx: 16, yLabGap: 47, wDx: 204, wDy: 5, tagDx: 1940, tagDy: 273,
    title: TITLES[5], tag: TAGS[5],
    series: [
      { d: F10, c: MAGENTA }, { d: F7, c: MAGENTA }, { d: F6, c: ORANGE }, { d: F5, c: ORANGE },
      { d: F12, c: DGREEN }, { d: F9, c: NAVY }, { d: F4, c: BLUE }, { d: F3, c: BLUE },
      { d: F8, c: GREEN }, { d: F13, c: DARK }, { d: F11, c: RED }, { d: F2, c: GREEN }, { d: F1, c: RED },
    ] },
];

function Panel({ cfg }: { cfg: PanelCfg }) {
  const plotW = (cfg.R - cfg.L) * S;
  const plotH = (cfg.B - cfg.T) * S;
  const width = plotW + ML + MR;
  const height = plotH + MT + MB;
  const axisY = MT + plotH;
  const txt = { fontSize: FS, fontFamily: FONT, fill: INK, stroke: INK, strokeWidth: TEXT_STROKE };

  const xTick = (p: any) => (
    <g transform={`translate(${p.x},${axisY + cfg.xLabGap * S}) scale(1,1.15)`}>
      <text x={0} y={0} textAnchor="middle" dominantBaseline="central" {...txt}>
        {String(p.payload.value)}
      </text>
    </g>
  );
  const yTick = (p: any) => (
    <g transform={`translate(${ML - cfg.yLabGap * S},${p.y}) scale(1,1.15)`}>
      <text x={0} y={0} textAnchor="end" dominantBaseline="central" {...txt}>
        {Number(p.payload.value).toFixed(cfg.dec)}
      </text>
    </g>
  );
  const titleContent = () => (
    <g transform={`translate(${ML + plotW / 2 + cfg.titleDx * S},${axisY + cfg.titleGap * S}) scale(1,1.15)`}>
      <text x={0} y={0} textAnchor="middle" dominantBaseline="central" {...txt}>
        {cfg.title}
      </text>
    </g>
  );
  const weightContent = () => {
    const cx = ML - cfg.wDx * S;
    const cy = MT + plotH / 2 + cfg.wDy * S;
    return (
      <text x={cx} y={cy} transform={`rotate(-90 ${cx} ${cy})`} textAnchor="middle" dominantBaseline="central" {...txt}>
        {Y_LABEL}
      </text>
    );
  };
  const tagContent = () => (
    <text x={ML + cfg.tagDx * S} y={MT + cfg.tagDy * S} textAnchor="middle" dominantBaseline="central"
      fontSize={76} fontWeight="bold" fontFamily={'"Liberation Serif", "Times New Roman", serif'} fill="#150a12">
      {cfg.tag}
    </text>
  );

  return (
    <div style={{ position: 'absolute', left: cfg.L * S - ML, top: cfg.T * S - MT, width, height }}>
      <LineChart width={width} height={height} margin={{ top: MT, right: MR, left: 0, bottom: 0 }}>
        <XAxis type="number" dataKey="x" domain={cfg.xDom} allowDataOverflow ticks={X_TICKS} interval={0}
          height={MB} axisLine={false} tickSize={TICK} tickMargin={0}
          tickLine={{ stroke: AXIS, strokeWidth: 2.4 }} tick={xTick}
          label={{ content: titleContent }} />
        <YAxis type="number" domain={[0, cfg.yMax]} allowDataOverflow ticks={cfg.yTicks} interval={0}
          width={ML} axisLine={false} tickSize={TICK} tickMargin={0}
          tickLine={{ stroke: AXIS, strokeWidth: 2.4 }} tick={yTick}
          label={{ content: weightContent }} />
        {cfg.series.map((s, i) => (
          <Line key={i} data={s.d.map(([x, y]) => ({ x, y }))} dataKey="y" type="linear" stroke={s.c}
            strokeWidth={3} dot={false} activeDot={false} isAnimationActive={false} strokeOpacity={0.92}
            strokeLinejoin="round" />
        ))}
        <ReferenceArea x1={cfg.xDom[0]} x2={cfg.xDom[1]} y1={0} y2={cfg.yMax} fill="none" fillOpacity={0}
          stroke={AXIS} strokeWidth={2.8} ifOverflow="visible" label={{ content: tagContent }} />
      </LineChart>
    </div>
  );
}

export default function App() {
  return (
    <div style={{ position: 'absolute', left: 0, top: 0, width: 3046, height: 4096, background: BG, overflow: 'hidden' }}>
      {PANELS.map((p, i) => (
        <Panel key={i} cfg={p} />
      ))}
    </div>
  );
}
